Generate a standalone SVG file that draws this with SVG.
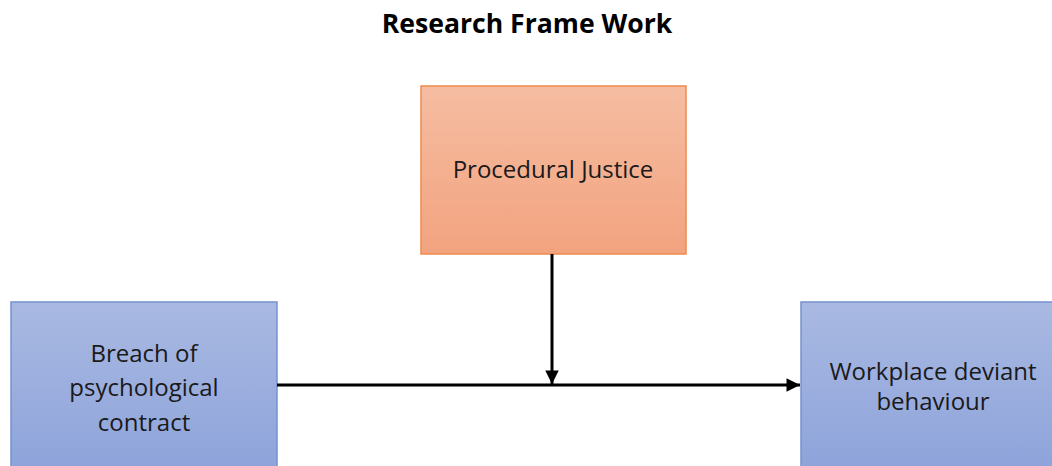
<svg xmlns="http://www.w3.org/2000/svg" width="1052" height="466" viewBox="0 0 1052 466">
<style>
.t{font-family:"Open Sans","Liberation Sans",sans-serif;fill:#1a1a1a;text-anchor:middle}
.title{font-family:"Open Sans","Liberation Sans",sans-serif;font-weight:bold;font-size:26.6px;fill:#000;text-anchor:middle}
.lbl{font-size:24px}
.blue{fill:url(#gb);stroke:#7492D0;stroke-width:1.5}
.orange{fill:url(#go);stroke:#F08A4B;stroke-width:1.5}
.conn{stroke:#000;stroke-width:3;fill:none}
</style>
<defs>
<linearGradient id="gb" x1="0" y1="0" x2="0" y2="1">
<stop offset="0" stop-color="#A9B9E2"/>
<stop offset="1" stop-color="#8DA3DA"/>
</linearGradient>
<linearGradient id="go" x1="0" y1="0" x2="0" y2="1">
<stop offset="0" stop-color="#F6BDA2"/>
<stop offset="1" stop-color="#F2A37F"/>
</linearGradient>
<marker id="ah" viewBox="0 0 10 10" refX="10" refY="5" markerWidth="5" markerHeight="4.5" markerUnits="strokeWidth" orient="auto">
<path d="M0,0 L10,5 L0,10 z" fill="#000"/>
</marker>
</defs>
<text class="title" x="527" y="33">Research Frame Work</text>
<g id="procedural-justice">
<rect class="orange" x="421" y="86" width="265" height="168"/>
<text class="t lbl" x="553" y="178">Procedural Justice</text>
</g>
<g id="breach">
<rect class="blue" x="11" y="302" width="266" height="170"/>
<text class="t lbl" x="144" y="362">Breach of</text>
<text class="t lbl" x="144" y="396">psychological</text>
<text class="t lbl" x="144" y="431">contract</text>
</g>
<g id="deviant">
<rect class="blue" x="801" y="302" width="266" height="170"/>
<text class="t lbl" x="933" y="380">Workplace deviant</text>
<text class="t lbl" x="933" y="410">behaviour</text>
</g>
<g id="connectors">
<line class="conn" x1="277" y1="385" x2="800" y2="385" marker-end="url(#ah)"/>
<line class="conn" x1="552" y1="254" x2="552" y2="384" marker-end="url(#ah)"/>
</g>
</svg>
